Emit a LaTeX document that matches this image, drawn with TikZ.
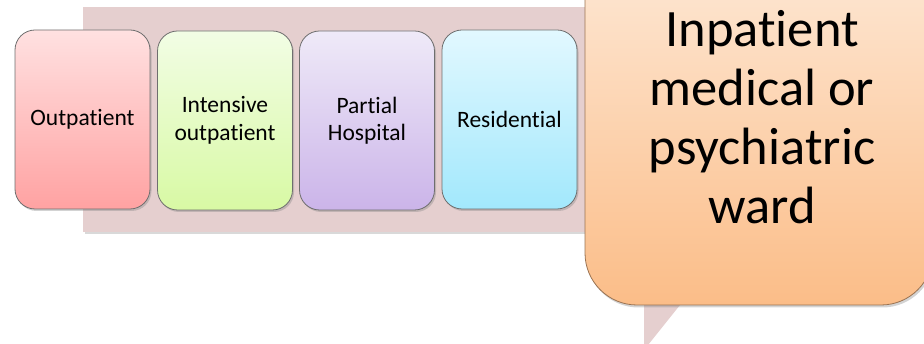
\documentclass[tikz,border=0pt]{standalone}
\usepackage{fontspec}
\setmainfont{Carlito}[RawFeature={-liga;-clig;-calt;-dlig}]
\usetikzlibrary{shadows}

\definecolor{bandfill}{HTML}{E5CFCF}
\definecolor{boxline}{HTML}{6E6E6E}
\definecolor{wardline}{HTML}{9A7352}

\tikzset{
  levelbox/.style={rounded corners=20pt, draw=boxline, line width=0.8pt,
    minimum width=135pt, minimum height=179pt, align=center,
    font=\fontsize{23.5}{27.5}\selectfont,
    drop shadow={opacity=0.35, shadow xshift=1.5pt, shadow yshift=-2pt}},
}

\begin{document}
\begin{tikzpicture}[x=1pt,y=-1pt]
\useasboundingbox (0,0) rectangle (924,344);
\clip (0,0) rectangle (924,344);

% background band behind the levels
\fill[bandfill, drop shadow={opacity=0.3, shadow xshift=1.5pt, shadow yshift=-2.5pt}]
  (83,7) rectangle (600,232);

% pointer under the ward callout
\fill[bandfill] (644,300) -- (684,300) -- (644,350) -- cycle;

% the four care levels
\node[levelbox, top color={rgb,255:red,255;green,225;blue,225}, bottom color={rgb,255:red,255;green,162;blue,162}]
  (out) at (82.5,119.5) {Outpatient};
\node[levelbox, top color={rgb,255:red,242;green,253;blue,229}, bottom color={rgb,255:red,216;green,249;blue,164}]
  (iop) at (225,120.5) {Intensive\\outpatient};
\node[levelbox, top color={rgb,255:red,239;green,234;blue,248}, bottom color={rgb,255:red,203;green,180;blue,233}]
  (php) at (367,120.5) {Partial\\Hospital};
\node[levelbox, top color={rgb,255:red,226;green,248;blue,255}, bottom color={rgb,255:red,162;green,232;blue,252}]
  (res) at (509.5,119.5) {Residential};

% inpatient callout box
\node[rounded corners=52pt, draw=wardline, line width=0.8pt,
  minimum width=348pt, minimum height=400pt,
  top color={rgb,255:red,254;green,238;blue,224}, bottom color={rgb,255:red,251;green,189;blue,136},
  drop shadow={opacity=0.35, shadow xshift=1.5pt, shadow yshift=-2.5pt}]
  (ward) at (759,105) {};
\node[align=center, font=\fontsize{52.5}{59}\selectfont]
  (wardtext) at (762,117) {Inpatient\\medical or\\psychiatric\\ward};
\end{tikzpicture}
\end{document}
